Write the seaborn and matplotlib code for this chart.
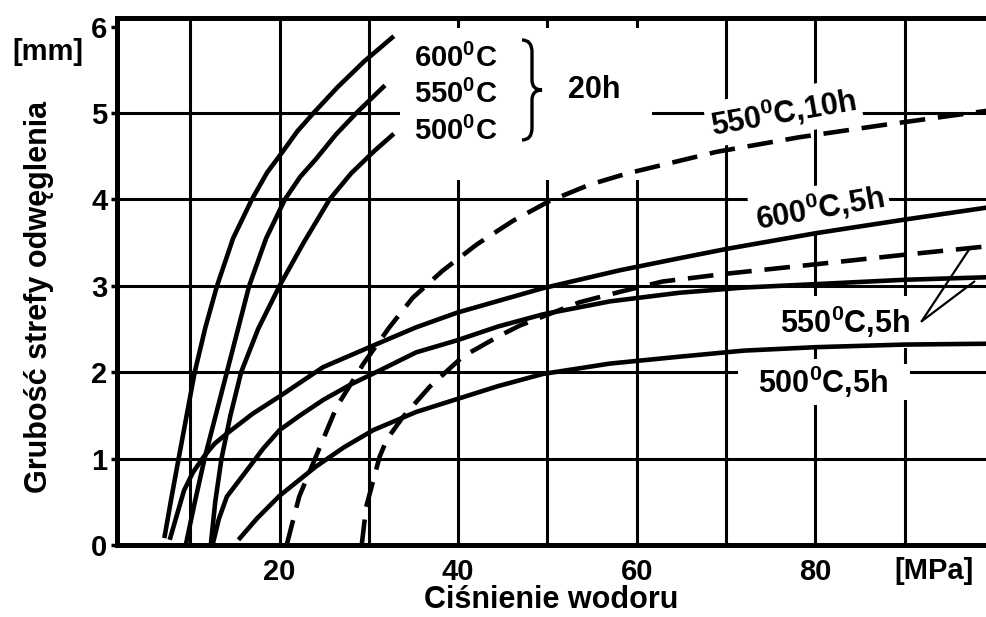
import numpy as np
import pandas as pd
import matplotlib
matplotlib.use("Agg")
import matplotlib.pyplot as plt
import seaborn as sns
from matplotlib.path import Path
from matplotlib.patches import PathPatch, Rectangle

# ---------------- data ----------------
# pressure [MPa] / thickness [mm]
c600_20h_x = [7.1, 7.9, 8.7, 9.6, 10.5, 11.7, 13.0, 14.8, 16.9, 18.6, 20.4, 22.0, 23.8, 26.5, 29.5, 32.8]
c600_20h_y = [0.08, 0.55, 1.0, 1.5, 2.0, 2.52, 3.0, 3.55, 4.0, 4.31, 4.56, 4.79, 5.0, 5.3, 5.6, 5.89]

c550_20h_x = [9.5, 10.5, 11.6, 12.85, 14.1, 15.35, 16.6, 18.5, 20.6, 22.3, 24.1, 26.3, 28.6, 31.8]
c550_20h_y = [0.0, 0.49, 1.0, 1.5, 2.0, 2.5, 3.0, 3.55, 4.0, 4.26, 4.47, 4.75, 5.0, 5.32]

c500_20h_x = [12.3, 12.8, 13.5, 14.5, 15.7, 17.6, 20.0, 22.7, 25.6, 28.0, 30.6, 32.8]
c500_20h_y = [0.0, 0.5, 1.0, 1.5, 2.0, 2.5, 3.0, 3.5, 4.0, 4.3, 4.56, 4.76]

c600_5h_x = [7.7, 9.3, 10.3, 11.5, 12.7, 14.1, 17.0, 20.0, 24.9, 31.2, 35.3, 39.9, 49.4, 58.1, 64.8, 70.2, 80.1, 90.2, 99.5]
c600_5h_y = [0.06, 0.63, 0.84, 1.02, 1.17, 1.29, 1.52, 1.72, 2.06, 2.34, 2.52, 2.69, 2.97, 3.18, 3.32, 3.43, 3.61, 3.77, 3.91]

c550_5h_x = [12.5, 13.2, 14.1, 16.6, 18.2, 20.0, 22.3, 24.9, 28.0, 31.2, 35.3, 39.9, 44.5, 49.5, 57.0, 64.8, 72.0, 80.1, 90.0, 99.5]
c550_5h_y = [0.0, 0.3, 0.56, 0.9, 1.12, 1.33, 1.5, 1.68, 1.86, 2.02, 2.23, 2.37, 2.53, 2.67, 2.82, 2.92, 2.98, 3.02, 3.07, 3.10]

c500_5h_x = [15.4, 17.5, 20.0, 24.1, 27.2, 30.5, 35.3, 39.9, 44.5, 49.5, 57.0, 64.8, 72.0, 80.1, 90.0, 99.5]
c500_5h_y = [0.06, 0.31, 0.57, 0.91, 1.13, 1.33, 1.54, 1.69, 1.84, 1.98, 2.10, 2.18, 2.25, 2.29, 2.32, 2.33]

c550_10h_x = [20.8, 22.2, 24.1, 26.4, 29.4, 32.3, 34.9, 38.2, 42.1, 46.1, 50.2, 54.7, 58.9, 63.7, 68.9, 78.2, 87.5, 99.5]
c550_10h_y = [0.0, 0.56, 1.03, 1.60, 2.10, 2.52, 2.86, 3.17, 3.48, 3.75, 3.98, 4.17, 4.30, 4.42, 4.55, 4.72, 4.86, 5.03]

c550_5h_b_x = [29.2, 29.7, 30.5, 31.2, 32.0, 33.8, 36.8, 40.5, 44.6, 46.9, 53.6, 58.1, 62.9, 70.0, 80.1, 90.0, 99.5]
c550_5h_b_y = [0.0, 0.44, 0.75, 1.02, 1.22, 1.48, 1.83, 2.18, 2.42, 2.54, 2.81, 2.93, 3.05, 3.14, 3.25, 3.36, 3.46]

x_ticks = [10, 20, 30, 40, 50, 60, 70, 80, 90]
x_tick_labels = ["", "20", "", "40", "", "60", "", "80", ""]
y_ticks = [0, 1, 2, 3, 4, 5, 6]
y_tick_labels = ["0", "1", "2", "3", "4", "5", "6"]

curves = [
    ("600C 20h", c600_20h_x, c600_20h_y, "solid"),
    ("550C 20h", c550_20h_x, c550_20h_y, "solid"),
    ("500C 20h", c500_20h_x, c500_20h_y, "solid"),
    ("600C 5h", c600_5h_x, c600_5h_y, "solid"),
    ("550C 5h", c550_5h_x, c550_5h_y, "solid"),
    ("500C 5h", c500_5h_x, c500_5h_y, "solid"),
    ("550C 10h", c550_10h_x, c550_10h_y, "dashed"),
    ("550C 5h b", c550_5h_b_x, c550_5h_b_y, "dashed"),
]
df = pd.concat([pd.DataFrame({"curve": n, "p": x, "d": y, "kind": k})
                for n, x, y, k in curves], ignore_index=True)

# ---------------- style ----------------
sns.set_theme(style="white")
plt.rcParams["font.family"] = ["Liberation Sans", "DejaVu Sans"]
plt.rcParams["font.weight"] = "bold"
plt.rcParams["axes.labelweight"] = "bold"
plt.rcParams["text.color"] = "black"
plt.rcParams["axes.labelcolor"] = "black"
plt.rcParams["xtick.color"] = "black"
plt.rcParams["ytick.color"] = "black"
plt.rcParams["mathtext.fontset"] = "custom"
plt.rcParams["mathtext.rm"] = "Liberation Sans"
plt.rcParams["mathtext.bf"] = "Liberation Sans:bold"
plt.rcParams["mathtext.it"] = "Liberation Sans:italic"

W, H = 986, 617
fig = plt.figure(figsize=(W / 100, H / 100), dpi=100)
ax = fig.add_axes([117 / W, 1 - 545 / H, (986 - 117) / W, (545 - 18) / H])

for name, _, _, kind in curves:
    sub = df[df.curve == name]
    ls = "-" if kind == "solid" else (0, (5.6, 2.8))
    sns.lineplot(data=sub, x="p", y="d", ax=ax, color="black", lw=3.3,
                 linestyle=ls, sort=False, estimator=None, zorder=3,
                 solid_capstyle="butt", dash_capstyle="butt",
                 solid_joinstyle="round", legend=False)

ax.set_xlim(1.8, 99.1)
ax.set_ylim(0, 6.1)
ax.set_xticks(x_ticks)
ax.set_xticklabels(x_tick_labels)
ax.set_yticks(y_ticks)
ax.set_yticklabels(y_tick_labels)
ax.set_axisbelow(True)
ax.grid(True, color="black", lw=2.2)
ax.yaxis.get_gridlines()[-1].set_visible(False)
ax.yaxis.get_gridlines()[0].set_visible(False)

for s in ["left", "bottom", "top"]:
    ax.spines[s].set_visible(True)
    ax.spines[s].set_color("black")
    ax.spines[s].set_linewidth(3.6)
ax.spines["right"].set_visible(False)

ax.tick_params(axis="y", direction="out", length=4, width=2.5, colors="black",
               labelsize=21, pad=3, left=True)
ax.tick_params(axis="x", length=0, labelsize=21, pad=9, colors="black")

ax.set_xlabel("Ciśnienie wodoru", fontsize=22, color="black")
ax.xaxis.set_label_coords(0.5, -0.075)
ax.set_ylabel("Grubość strefy odwęglenia", fontsize=22, color="black")
ax.yaxis.set_label_coords(-0.073, 0.47)

fig.text(48 / W, 1 - 52 / H, "[mm]", fontsize=21, ha="center", va="center", color="black")
ax.text(93.3, -0.30, "[MPa]", fontsize=21, ha="center", va="center", clip_on=False)

# white area behind the 20h group of labels
ax.add_patch(Rectangle((400 / W, 1 - 180 / H), 252 / W, 152 / H,
                       transform=fig.transFigure, facecolor="white",
                       edgecolor="none", zorder=1))
# white area behind 500C,5h label (gridline gap)
ax.add_patch(Rectangle((738 / W, 1 - 400 / H), 172 / W, 36 / H,
                       transform=fig.transFigure, facecolor="white",
                       edgecolor="none", zorder=1))

box = dict(boxstyle="square,pad=0.15", fc="white", ec="none")
deg = r"$^{\mathbf{0}}$"
fs = 21
ax.text(35.1, 5.53, "600" + deg + "C", fontsize=fs, ha="left", va="baseline", zorder=2)
ax.text(35.1, 5.12, "550" + deg + "C", fontsize=fs, ha="left", va="baseline", zorder=2)
ax.text(35.1, 4.69, "500" + deg + "C", fontsize=fs, ha="left", va="baseline", zorder=2)
ax.text(55.2, 5.17, "20h", fontsize=22, ha="center", va="baseline", zorder=2)

ax.text(76.4, 5.01, "550" + deg + "C,10h", fontsize=22, ha="center", va="center",
        rotation=10, rotation_mode="anchor", bbox=box, zorder=2)
ax.text(80.5, 3.90, "600" + deg + "C,5h", fontsize=22, ha="center", va="center",
        rotation=10, rotation_mode="anchor", bbox=box, zorder=2)
ax.text(83.3, 2.45, "550" + deg + "C,5h", fontsize=22, ha="center", va="baseline",
        bbox=dict(boxstyle="square,pad=0.25", fc="white", ec="none"), zorder=2)
ax.text(80.9, 1.76, "500" + deg + "C,5h", fontsize=22, ha="center", va="baseline",
        bbox=box, zorder=2)

# pointer lines of the 550C,5h label
ax.annotate("", xy=(97.2, 3.42), xytext=(91.9, 2.59),
            arrowprops=dict(arrowstyle="-", lw=1.6, color="black", shrinkA=0, shrinkB=0))
ax.annotate("", xy=(97.8, 3.05), xytext=(91.9, 2.59),
            arrowprops=dict(arrowstyle="-", lw=1.6, color="black", shrinkA=0, shrinkB=0))

# curly brace
bx = [(522, 40), (532, 40), (532, 52), (532, 80), (532, 90), (542, 90),
      (532, 90), (532, 100), (532, 128), (532, 140), (522, 140)]
codes = [Path.MOVETO, Path.CURVE3, Path.CURVE3, Path.LINETO, Path.CURVE3, Path.CURVE3,
         Path.CURVE3, Path.CURVE3, Path.LINETO, Path.CURVE3, Path.CURVE3]
verts = [(px / W, 1 - py / H) for px, py in bx]
fig.patches.append(PathPatch(Path(verts, codes), transform=fig.transFigure,
                             fill=False, lw=2.4, edgecolor="black", capstyle="butt"))

fig.savefig("out.png", dpi=100)
